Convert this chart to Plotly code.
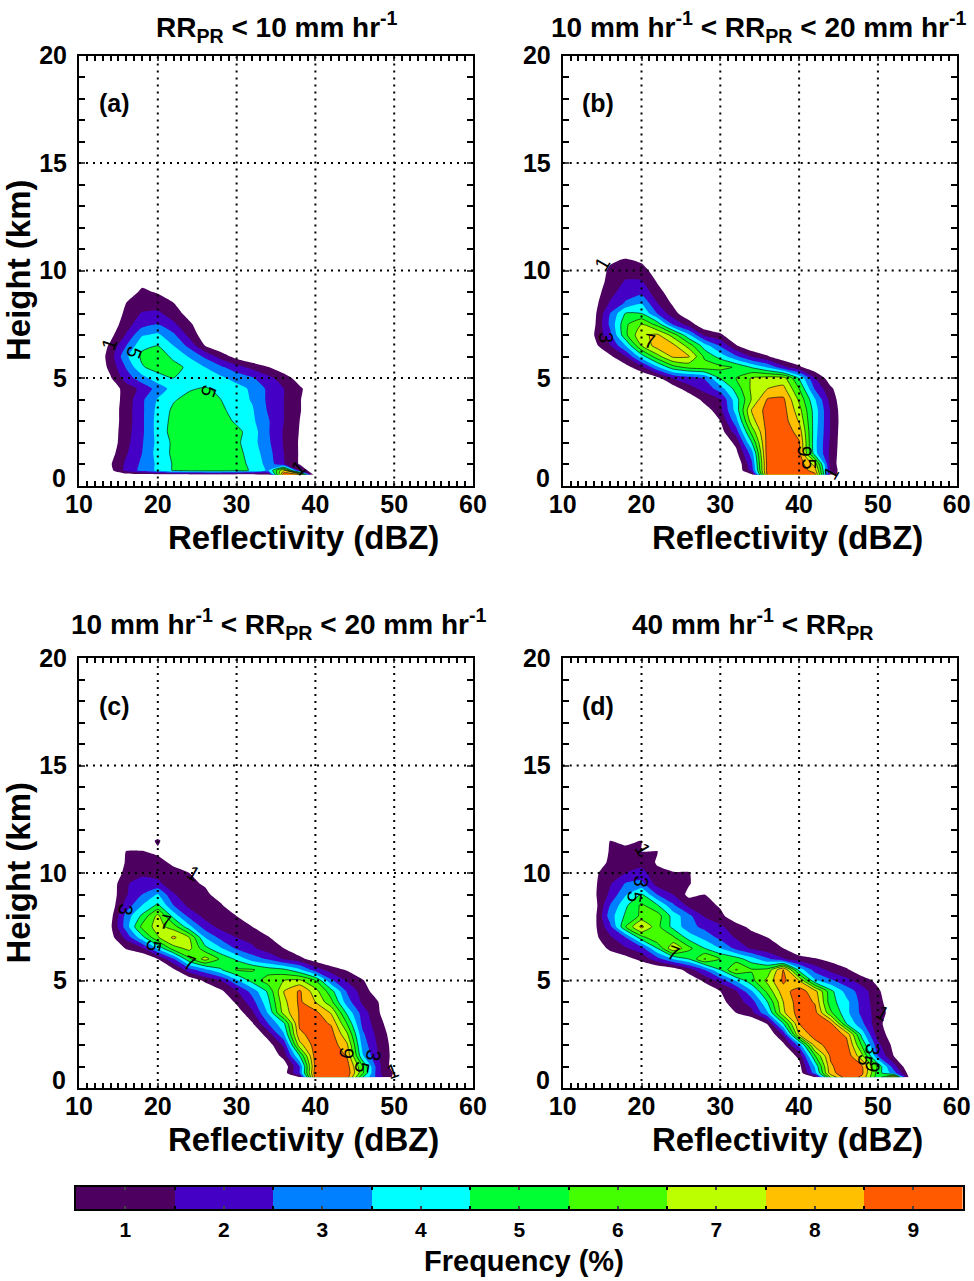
import plotly.graph_objects as go

REFL = [12, 14, 16, 18, 20, 22, 24, 26, 28, 30, 32, 34, 36, 38, 40, 42, 44, 46, 48, 50, 52, 54, 56]
HEIGHT = [0.5, 0.7, 1, 1.5, 2, 2.5, 3, 3.5, 4, 4.5, 5, 5.5, 6, 6.5, 7, 7.5, 8, 8.5, 9, 9.5, 10, 10.5, 11, 11.5, 12]

# each row: first reflectivity bin with a non-zero frequency, then the frequencies (%) from there on
ROWS_A = [
    (14, [.3, .5, .6, .6, .6, .6, .6, .6, .6, .6, .8, 9.9, 9.0]),
    (14, [.7, 2.3, 3.3, 4.2, 5.1, 5.4, 5.5, 5.5, 5.3, 4.9, 3.8, 8.0, 2.0]),
    (14, [.9, 2.2, 3.2, 4.2, 5.1, 5.5, 5.6, 5.6, 5.3, 4.8, 3.6, 2.1, .9]),
    (14, [.6, 1.9, 3.0, 4.4, 5.2, 5.6, 5.7, 5.6, 5.3, 4.6, 3.4, 2.0, .9]),
    (14, [.4, 1.7, 2.9, 4.3, 5.2, 5.6, 5.7, 5.6, 5.2, 4.4, 3.2, 1.9, .9]),
    (14, [.4, 1.6, 2.8, 4.4, 5.4, 5.6, 5.7, 5.6, 5.3, 4.5, 3.1, 1.9, .95]),
    (14, [.4, 1.5, 2.8, 4.4, 5.3, 5.6, 5.6, 5.5, 4.8, 4.2, 3.1, 2.0, 1.0]),
    (14, [.4, 1.5, 2.8, 4.3, 5.2, 5.5, 5.5, 5.2, 4.6, 4.1, 2.9, 2.0, 1.1]),
    (14, [.4, 1.4, 2.8, 4.1, 4.9, 5.3, 5.3, 5.0, 4.5, 3.9, 2.8, 2.0, 1.1]),
    (14, [.4, 1.4, 2.3, 3.4, 4.4, 4.9, 5.1, 4.8, 4.4, 3.8, 2.8, 2.0, 1.2, .2]),
    (14, [.9, 2.5, 3.6, 4.6, 5.0, 4.7, 4.4, 4.2, 3.6, 3.1, 2.3, 1.5, .5]),
    (14, [1.3, 3.1, 4.9, 5.4, 5.3, 4.8, 4.0, 3.2, 2.4, 1.7, 1.05, .3]),
    (14, [1.5, 3.8, 5.2, 5.5, 4.8, 3.9, 2.8, 1.6, .6]),
    (14, [1.2, 3.0, 4.8, 5.0, 4.0, 2.7, 1.0, .2]),
    (14, [.7, 2.1, 3.9, 4.2, 3.2, 1.7, .4]),
    (14, [.3, 1.6, 2.6, 3.0, 2.2, 1.2, .2]),
    (16, [1.3, 2.1, 2.2, 1.5, .6]),
    (16, [1.0, 1.4, 1.5, 1.0, .2]),
    (16, [.4, 1.2, .9, .2]),
    (18, [.7, .4]),
]
ROWS_B = [
    (34, [.8, 9.3, 9.6, 9.6, 9.3, 1.6]),
    (34, [2.4, 9.5, 9.8, 9.7, 8.5, 1.8]),
    (34, [2.8, 9.4, 9.8, 9.6, 7.6, 1.6]),
    (32, [.7, 3.5, 9.6, 9.9, 9.3, 4.4, 1.7]),
    (32, [1.3, 5.0, 9.5, 9.8, 9.1, 4.3, 1.8]),
    (30, [.5, 2.5, 6.4, 9.4, 9.7, 8.6, 4.4, 1.9]),
    (30, [1.0, 3.6, 7.6, 9.4, 9.5, 7.9, 4.5, 1.9, .1]),
    (28, [.4, 1.7, 4.4, 8.1, 9.4, 9.4, 7.4, 4.5, 1.9]),
    (26, [.1, 1.4, 2.0, 4.6, 7.1, 9.1, 9.2, 6.8, 4.1, 1.6]),
    (24, [.4, 1.6, 2.3, 3.5, 5.4, 7.2, 8.0, 8.3, 6.0, 2.9, 1.2]),
    (22, [.7, 2.1, 2.6, 3.1, 5.1, 6.0, 7.1, 7.4, 7.4, 4.9, 2.0, .4]),
    (18, [.6, 1.7, 3.8, 5.6, 6.3, 6.5, 6.3, 5.9, 4.9, 3.9, 2.3, 1.2, .3]),
    (16, [.8, 2.0, 4.5, 6.6, 8.2, 8.1, 5.8, 4.6, 3.2, 1.9, 1.1, .2]),
    (14, [.7, 1.9, 4.0, 7.0, 8.5, 8.3, 6.6, 4.5, 2.9, 1.1, .1]),
    (14, [1.0, 2.7, 5.8, 7.8, 8.2, 6.6, 4.2, 1.8, 1.2, .1]),
    (14, [.8, 3.2, 5.8, 7.0, 5.6, 2.9, 1.5, .2]),
    (14, [.7, 3.0, 5.1, 5.0, 3.0, 1.4, .2]),
    (14, [.6, 2.1, 3.1, 3.9, 2.0, .8]),
    (14, [.5, 1.6, 2.6, 2.7, 1.4, .4]),
    (14, [.4, 1.3, 2.1, 2.1, .9]),
    (14, [.2, 1.2, 1.5, 1.4, .5]),
    (16, [.8, 1.1, .8]),
]
ROWS_C = [
    (38, [1.0, 9.5, 9.7, 9.5, 5.0, 2.5, .7]),
    (36, [.5, 3.0, 9.6, 9.9, 9.7, 6.2, 2.2, .9]),
    (36, [.3, 3.0, 9.3, 9.9, 9.5, 6.0, 2.3, .4]),
    (36, [1.4, 5.0, 9.5, 9.8, 8.9, 4.1, 2.0, .6]),
    (34, [.5, 2.2, 7.6, 9.5, 9.6, 8.2, 3.6, 1.8, .6]),
    (34, [1.5, 3.9, 8.8, 9.4, 9.4, 7.2, 3.2, 1.6, .5]),
    (32, [.9, 3.0, 4.8, 9.2, 9.4, 8.9, 6.0, 2.7, 1.4, .2]),
    (30, [.4, 1.8, 4.1, 7.4, 9.1, 9.3, 7.9, 4.8, 2.5, 1.1]),
    (30, [1.2, 2.6, 4.7, 7.7, 9.2, 8.0, 6.3, 3.5, 1.8, 1.0]),
    (26, [.1, .8, 1.9, 3.4, 5.2, 8.0, 9.15, 7.4, 5.4, 2.9, 1.5, .4]),
    (24, [.2, 1.2, 2.0, 3.8, 5.4, 6.5, 7.0, 7.2, 6.0, 3.2, 1.9, 1.1]),
    (22, [.8, 2.6, 3.7, 4.9, 6.1, 6.1, 5.5, 5.2, 4.2, 2.5, 1.5, .9, .1]),
    (20, [1.0, 2.9, 5.8, 7.4, 5.8, 4.8, 3.5, 2.9, 1.9, 1.3, .5]),
    (16, [1.1, 1.8, 4.2, 6.6, 7.3, 5.3, 4.1, 2.8, 2.2, 1.4, 1.0, .2]),
    (14, [.6, 2.3, 4.6, 6.9, 8.2, 7.0, 4.0, 2.7, 2.0, 1.6, 1.1, .2]),
    (14, [.8, 3.5, 6.3, 7.4, 6.5, 4.3, 2.5, 1.7, 1.3, 1.0, .2]),
    (14, [.6, 3.4, 5.2, 7.3, 4.6, 2.7, 1.7, 1.4, 1.0, .2]),
    (14, [.4, 2.4, 4.0, 5.2, 3.0, 1.7, 1.3, 1.1, .3]),
    (14, [.4, 1.9, 3.0, 4.1, 2.1, 1.4, 1.2, .6]),
    (14, [.4, 1.8, 2.9, 2.2, 1.5, 1.2, .9]),
    (14, [.2, 1.3, 1.5, 1.7, 1.3, 1.0, .2]),
    (14, [.1, 1.1, 1.3, 1.3, .8, .2]),
    (16, [1.05, 1.05, .8, .2]),
    (18, [.2, 1.2]),
]
ROWS_D = [
    (42, [1.0, 7.0, 9.6, 8.8, 5.3, 8.5, .6]),
    (40, [.3, 3.5, 8.6, 9.8, 9.2, 5.5, 3.5, .5]),
    (40, [.6, 4.1, 8.8, 9.9, 9.1, 5.8, 2.5]),
    (40, [1.3, 5.9, 9.2, 9.8, 7.2, 3.0, 1.0]),
    (38, [.7, 3.4, 8.4, 9.6, 9.4, 5.8, 2.3, .7]),
    (38, [2.2, 8.0, 9.6, 9.6, 8.8, 4.5, 1.5, .5]),
    (36, [1.1, 5.0, 9.0, 9.6, 9.2, 5.0, 3.2, 1.3, .3]),
    (32, [1.0, 1.7, 3.9, 7.8, 9.5, 9.4, 6.2, 4.3, 2.7, 1.5, .5]),
    (30, [.7, 1.5, 2.5, 5.0, 8.0, 9.6, 8.9, 5.4, 4.3, 2.6, 1.4, .2]),
    (28, [.2, 1.0, 1.9, 3.9, 6.3, 8.6, 9.5, 8.4, 5.3, 3.6, 2.5, 1.2]),
    (26, [.2, 1.2, 2.4, 4.1, 5.7, 7.3, 9.2, 8.0, 4.2, 3.2, 2.3, 1.5, .7]),
    (24, [.3, 1.5, 3.0, 5.0, 7.1, 6.1, 6.3, 9.1, 4.6, 2.6, 1.7, 1.2, .2]),
    (18, [.6, 1.3, 2.6, 4.0, 5.0, 7.1, 6.0, 5.5, 4.4, 3.2, 2.1, 1.4, 1.1, .7]),
    (16, [1.3, 1.9, 2.6, 5.0, 7.9, 6.3, 5.0, 4.0, 2.7, 1.8, 1.3, 1.0, .2]),
    (14, [.7, 1.8, 3.0, 5.6, 7.0, 6.2, 4.6, 3.7, 2.7, 1.9, 1.3, 1.0, .2]),
    (14, [.7, 2.7, 6.0, 8.3, 6.3, 4.7, 3.4, 2.7, 2.2, 1.3, .8]),
    (14, [.6, 3.5, 5.2, 6.2, 6.5, 4.6, 3.3, 1.9, 1.2, .5]),
    (14, [.5, 3.0, 4.8, 6.2, 5.1, 3.2, 1.7, 1.3, .9]),
    (14, [.8, 2.2, 3.9, 5.1, 3.0, 2.0, .7, 1.0, .2]),
    (14, [.8, 1.9, 3.1, 3.3, 1.6, 1.2, 1.1, .3]),
    (14, [.8, 1.5, 2.0, 2.4, 1.2, 1.1, 1.1]),
    (14, [.3, 1.2, 2.0, 1.6, .9, .3]),
    (16, [1.1, 1.5, 1.0, 1.05]),
    (16, [1.0, .6, 1.05]),
]

COLORS = ["#ffffff", "#4d0060", "#4400c4", "#0080ff", "#00ffff", "#00ff33",
          "#44ff00", "#bbff00", "#ffc000", "#ff5a00"]
FREQ_TICKS = [1, 2, 3, 4, 5, 6, 7, 8, 9]
X_TICKS = [10, 20, 30, 40, 50, 60]
Y_TICKS = [5, 10, 15, 20]
X_GRID = [20, 30, 40, 50]
Y_GRID = [5, 10, 15]

W, H = 974, 1281
FONT = "Liberation Sans"
PANELS = [
    dict(key="", over="6", rows=ROWS_A, left=79, top=55.5, letter="(a)", ytitle=True,
         title="RR<sub>PR</sub> &lt; 10 mm hr<sup>-1</sup>", tx=277, ty=27,
         labels=[("1", 13.8, 6.6, -70), ("5", 17.0, 6.2, 110), ("5", 26.5, 4.4, 110), ("1", 37.8, 0.8, -40)]),
    dict(key="2", over="7", rows=ROWS_B, left=562.7, top=55.5, letter="(b)", ytitle=False,
         title="10 mm hr<sup>-1</sup> &lt; RR<sub>PR</sub> &lt; 20 mm hr<sup>-1</sup>", tx=758, ty=27,
         labels=[("1", 15.0, 10.3, -60), ("3", 15.5, 6.9, 90), ("7", 21.0, 6.7, 10),
                 ("9", 40.7, 1.6, 95), ("5", 41.2, 1.0, 90), ("1", 44.0, 0.6, -60)]),
    dict(key="3", over="8", rows=ROWS_C, left=79, top=658, letter="(c)", ytitle=True,
         title="10 mm hr<sup>-1</sup> &lt; RR<sub>PR</sub> &lt; 20 mm hr<sup>-1</sup>", tx=278, ty=624,
         labels=[("3", 16.0, 8.3, 100), ("7", 21.0, 7.7, 10), ("5", 19.5, 6.6, 100), ("7", 24.0, 5.8, 20),
                 ("1", 24.5, 10.0, 30), ("9", 44.0, 1.6, 100), ("3", 47.4, 1.5, 100),
                 ("5", 46.0, 0.95, 100), ("1", 49.8, 0.8, -20)]),
    dict(key="4", over="9", rows=ROWS_D, left=562.7, top=658, letter="(d)", ytitle=False,
         title="40 mm hr<sup>-1</sup> &lt; RR<sub>PR</sub>", tx=753, ty=624,
         labels=[("1", 20.1, 11.1, 60), ("3", 20.0, 9.6, 100), ("5", 19.2, 8.9, 100), ("7", 24.0, 6.3, 20),
                 ("1", 50.6, 3.5, 30), ("3", 49.3, 1.8, 100), ("5", 48.4, 1.3, 100), ("9", 49.4, 1.0, 100)]),
]
PW, PH = 394, 430


def grid(rows):
    out = []
    for i in range(len(HEIGHT)):
        line = [0.0] * len(REFL)
        if i < len(rows):
            first, vals = rows[i]
            k = REFL.index(first)
            line[k:k + len(vals)] = vals
        out.append(line)
    return out


def paper_note(text, px, py, font, **kw):
    return dict(text=text, x=px / W, y=1 - py / H, xref="paper", yref="paper", xanchor=kw.pop("xanchor", "center"),
                yanchor="middle", showarrow=False, font=font, **kw)


fig = go.Figure()
scale = [[i / 9, c] for i, c in enumerate(COLORS)]
shapes, notes = [], []
tick_font = dict(family=FONT, size=25, weight=700, color="black")
title_font = dict(family=FONT, size=33, weight=700, color="black")
head_font = dict(family=FONT, size=28, weight=700, color="black")
letter_font = dict(family=FONT, size=25, weight=700, color="black")

for p in PANELS:
    k = p["key"]
    z = grid(p["rows"])
    fig.add_trace(go.Contour(x=REFL, y=HEIGHT, z=z, xaxis="x" + k, yaxis="y" + k,
                             colorscale=scale, showscale=False, autocontour=False,
                             contours=dict(start=1, end=9, size=1, coloring="fill", showlines=False),
                             line=dict(width=0, smoothing=0.5), hoverinfo="skip"))
    fig.add_trace(go.Contour(x=REFL, y=HEIGHT, z=z, xaxis="x" + k, yaxis="y" + k,
                             showscale=False, autocontour=False,
                             contours=dict(start=5, end=9, size=1, coloring="none"),
                             line=dict(width=0.7, color="#111111", smoothing=0.5), hoverinfo="skip"))
    dom_x = [p["left"] / W, (p["left"] + PW) / W]
    dom_y = [1 - (p["top"] + PH) / H, 1 - p["top"] / H]
    fig.layout["xaxis" + k] = dict(
        range=[10, 60], domain=dom_x, anchor="y" + k,
        tickmode="array", tickvals=X_TICKS, ticks="inside", ticklen=5, tickwidth=1.5,
        tickfont=tick_font, ticklabelstandoff=-5, showgrid=False, zeroline=False,
        showline=True, linewidth=2, linecolor="black", mirror="allticks", layer="above traces",
        minor=dict(dtick=1, ticks="inside", ticklen=5, tickwidth=1.5, tickcolor="black", showgrid=False))
    fig.layout["yaxis" + k] = dict(
        range=[0, 20], domain=dom_y, anchor="x" + k,
        tickmode="array", tickvals=Y_TICKS, ticks="inside", ticklen=6, tickwidth=1.5,
        tickfont=tick_font, ticklabelstandoff=5, showgrid=False, zeroline=False,
        showline=True, linewidth=2, linecolor="black", mirror="allticks", layer="above traces",
        minor=dict(dtick=1, ticks="inside", ticklen=6, tickwidth=1.5, tickcolor="black", showgrid=False))
    # finer, shorter tick marks between the kilometre ticks
    fig.layout["yaxis" + p["over"]] = dict(
        range=[0, 20], domain=dom_y, anchor="x" + k, overlaying="y" + k, side="left",
        tickmode="linear", tick0=0, dtick=0.2, ticks="inside", ticklen=2.5, tickwidth=1,
        showticklabels=False, showgrid=False, zeroline=False, showline=False, mirror="ticks",
        layer="above traces")
    dot = dict(color="black", width=2, dash="2px,5px")
    for gx in X_GRID:
        shapes.append(dict(type="line", xref="x" + k, yref="y" + k + " domain", x0=gx, x1=gx, y0=0, y1=1, line=dot))
    for gy in Y_GRID:
        shapes.append(dict(type="line", xref="x" + k + " domain", yref="y" + k, x0=0, x1=1, y0=gy, y1=gy, line=dot))
    notes.append(paper_note(p["title"], p["tx"], p["ty"], head_font))
    notes.append(paper_note(p["letter"], p["left"] + 35, p["top"] + 48, letter_font))
    notes.append(paper_note("0", p["left"] - 11, p["top"] + PH - 8, tick_font, xanchor="right"))
    notes.append(paper_note("Reflectivity (dBZ)", p["left"] + 224.5, p["top"] + PH + 51.5, title_font))
    if p["ytitle"]:
        notes.append(paper_note("Height (km)", 18, p["top"] + 214.5, title_font, textangle=-90))
    for txt, lx, ly, ang in p["labels"]:
        notes.append(dict(text=txt, x=lx, y=ly, xref="x" + k, yref="y" + k, showarrow=False, textangle=ang,
                          font=dict(family=FONT, size=20, color="black")))

# colour bar drawn as its own one-row heatmap
bar_scale = []
for i, c in enumerate(COLORS[1:]):
    bar_scale += [[i / 9, c], [(i + 1) / 9, c]]
fig.add_trace(go.Heatmap(x=FREQ_TICKS, y=[0], z=[FREQ_TICKS], zmin=0.5, zmax=9.5, colorscale=bar_scale,
                         showscale=False, xaxis="x5", yaxis="y5", hoverinfo="skip"))
fig.layout["xaxis5"] = dict(range=[0.5, 9.5], domain=[76 / W, 962.5 / W], anchor="y5", tickmode="array",
                            tickvals=FREQ_TICKS, ticks="inside", ticklen=3, tickwidth=1.5,
                            minor=dict(dtick=0.5, ticks="inside", ticklen=3, tickwidth=1.5, tickcolor="black", showgrid=False),
                            tickfont=dict(family=FONT, size=21, weight=700, color="black"),
                            ticklabelstandoff=1, showline=True, linewidth=2, linecolor="black", mirror="allticks",
                            showgrid=False, zeroline=False, layer="above traces")
fig.layout["yaxis5"] = dict(range=[-0.5, 0.5], domain=[1 - 1209 / H, 1 - 1186.5 / H], anchor="x5", showticklabels=False,
                            ticks="", showline=True, linewidth=2, linecolor="black", mirror=True,
                            showgrid=False, zeroline=False)
notes.append(paper_note("Frequency (%)", 524, 1261, dict(family=FONT, size=29, weight=700, color="black")))

fig.update_layout(width=W, height=H, margin=dict(l=0, r=0, t=0, b=0, autoexpand=False), paper_bgcolor="white",
                  plot_bgcolor="white", showlegend=False, shapes=shapes, annotations=notes)
fig.write_html("out.html", config=dict(displayModeBar=False), post_script="document.body.style.margin='0';")
